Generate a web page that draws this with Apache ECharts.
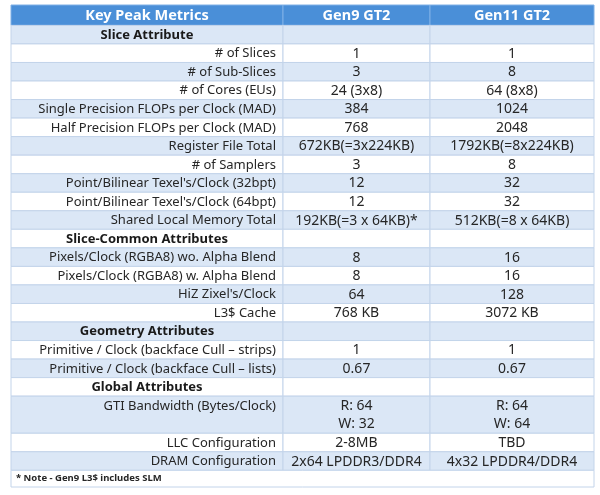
<!DOCTYPE html>
<html>
<head>
<meta charset="utf-8">
<script src="https://cdn.jsdelivr.net/npm/echarts@6/dist/echarts.min.js"></script>
<style>
html,body{margin:0;padding:0;background:#fff;}
#chart{width:600px;height:495px;}
</style>
</head>
<body>
<div id="chart"></div>
<script>
// ---- data ----
const headers = ['Key Peak Metrics', 'Gen9 GT2', 'Gen11 GT2'];
const sectionTitles = ['Slice Attribute', 'Slice-Common Attributes', 'Geometry Attributes', 'Global Attributes'];
const rowLabels = [
  'Slice Attribute',
  '# of Slices', '# of Sub-Slices', '# of Cores (EUs)',
  'Single Precision FLOPs per Clock (MAD)', 'Half Precision FLOPs per Clock (MAD)',
  'Register File Total', '# of Samplers',
  "Point/Bilinear Texel's/Clock (32bpt)", "Point/Bilinear Texel's/Clock (64bpt)",
  'Shared Local Memory Total',
  'Slice-Common Attributes',
  'Pixels/Clock (RGBA8) wo. Alpha Blend', 'Pixels/Clock (RGBA8) w. Alpha Blend',
  "HiZ Zixel's/Clock", 'L3$ Cache',
  'Geometry Attributes',
  'Primitive / Clock (backface Cull \u2013 strips)', 'Primitive / Clock (backface Cull \u2013 lists)',
  'Global Attributes',
  'GTI Bandwidth (Bytes/Clock)', 'LLC Configuration', 'DRAM Configuration'
];
const gen9Values = [
  '',
  '1', '3', '24 (3x8)', '384', '768', '672KB(=3x224KB)', '3', '12', '12', '192KB(=3 x 64KB)*',
  '',
  '8', '8', '64', '768 KB',
  '',
  '1', '0.67',
  '',
  'R: 64\nW: 32', '2-8MB', '2x64 LPDDR3/DDR4'
];
const gen11Values = [
  '',
  '1', '8', '64 (8x8)', '1024', '2048', '1792KB(=8x224KB)', '8', '32', '32', '512KB(=8 x 64KB)',
  '',
  '16', '16', '128', '3072 KB',
  '',
  '1', '0.67',
  '',
  'R: 64\nW: 64', 'TBD', '4x32 LPDDR4/DDR4'
];
const footnote = '* Note - Gen9 L3$ includes SLM';

// ---- layout / style (not data) ----
const colEdges = [0, 272, 419, 583];
const HEADER_SPAN = 1.1;
const NOTE_SPAN = 0.9;
const FONT = '"Noto Sans", "Open Sans", sans-serif';
const HEADER_BG = '#4a8fd8';
const BAND_BG = '#dbe7f6';
const LINE = '#c3d4ea';
const TEXT = '#262626';

// build rows
const rows = [];
let y = 0;
rows.push({kind: 'header', cells: headers, start: y, span: HEADER_SPAN}); y += HEADER_SPAN;
rowLabels.forEach(function (lab, i) {
  const isSection = sectionTitles.indexOf(lab) >= 0;
  const span = Math.max(gen9Values[i].split('\n').length, gen11Values[i].split('\n').length);
  rows.push({kind: isSection ? 'section' : 'metric', cells: [lab, gen9Values[i], gen11Values[i]], start: y, span: span, band: (i % 2 === 0)});
  y += span;
});
rows.push({kind: 'note', cells: [footnote], start: y, span: NOTE_SPAN}); y += NOTE_SPAN;
const totalUnits = y;

function renderItem(params, api) {
  const r = rows[api.value(0)];
  const rowH = api.size([0, 1])[1];
  const children = [];
  if (r.kind === 'note') {
    const a = api.coord([colEdges[0], r.start]);
    const b = api.coord([colEdges[3], r.start + r.span]);
    children.push({type: 'rect', shape: {x: a[0], y: a[1], width: b[0] - a[0], height: b[1] - a[1]},
      style: {fill: '#fff', stroke: LINE, lineWidth: 1}});
    children.push({type: 'text', style: {text: r.cells[0], x: a[0] + 5, y: (a[1] + b[1]) / 2,
      align: 'left', verticalAlign: 'middle', fontFamily: FONT, fontSize: 9.5, fontWeight: 'bold', fill: TEXT}});
    return {type: 'group', children: children};
  }
  for (let c = 0; c < 3; c++) {
    const a = api.coord([colEdges[c], r.start]);
    const b = api.coord([colEdges[c + 1], r.start + r.span]);
    let fill = '#ffffff';
    if (r.kind === 'header') fill = HEADER_BG;
    else if (r.band) fill = BAND_BG;
    children.push({type: 'rect', shape: {x: a[0], y: a[1], width: b[0] - a[0], height: b[1] - a[1]},
      style: {fill: fill, stroke: r.kind === 'header' ? '#7fb0e6' : LINE, lineWidth: 1}});
    const txt = r.cells[c];
    if (!txt) continue;
    const cy = a[1] + rowH / 2 + 0.5;
    if (r.kind === 'header') {
      children.push({type: 'text', style: {text: txt, x: (a[0] + b[0]) / 2, y: (a[1] + b[1]) / 2 + 0.5, align: 'center', verticalAlign: 'middle',
        fontFamily: FONT, fontSize: 14.5, fontWeight: 'bold', fill: '#ffffff'}});
    } else if (r.kind === 'section') {
      children.push({type: 'text', style: {text: txt, x: (a[0] + b[0]) / 2, y: cy, align: 'center', verticalAlign: 'middle',
        fontFamily: FONT, fontSize: 13, fontWeight: 'bold', fill: '#1a1a1a'}});
    } else if (c === 0) {
      children.push({type: 'text', style: {text: txt, x: b[0] - 7, y: cy, align: 'right', verticalAlign: 'middle',
        fontFamily: FONT, fontSize: 13, fill: TEXT}});
    } else {
      children.push({type: 'text', style: {text: txt, x: (a[0] + b[0]) / 2, y: a[1] + (b[1] - a[1]) / 2 + 0.5, align: 'center', verticalAlign: 'middle',
        fontFamily: FONT, fontSize: 14, lineHeight: rowH, fill: TEXT}});
    }
  }
  return {type: 'group', children: children};
}

const chart = echarts.init(document.getElementById('chart'), null, {renderer: 'canvas'});
chart.setOption({
  backgroundColor: '#ffffff',
  animation: false,
  grid: {left: 11, top: 5, width: 583, height: 482},
  xAxis: {type: 'value', min: 0, max: colEdges[3], show: false},
  yAxis: {type: 'value', min: 0, max: totalUnits, inverse: true, show: false},
  series: [{
    type: 'custom',
    renderItem: renderItem,
    data: rows.map(function (r, i) { return [i, r.start]; }),
    encode: {x: -1, y: 1},
    clip: false
  }]
});
</script>
</body>
</html>
